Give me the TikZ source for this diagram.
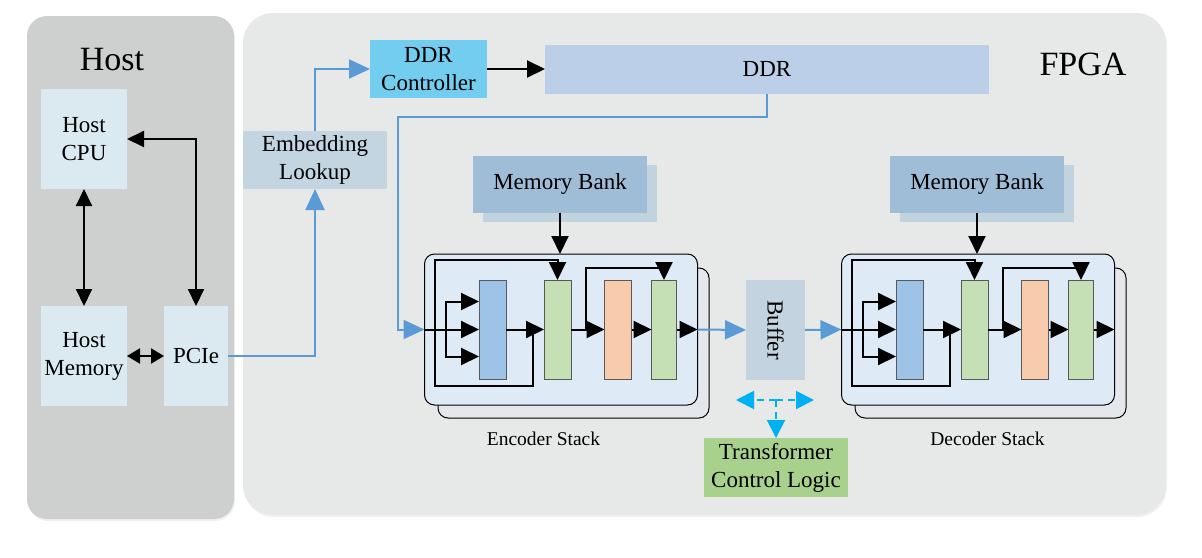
\documentclass[tikz,border=0pt]{standalone}
\usepackage{fontspec}
\setmainfont{Liberation Serif}
\usepackage{graphicx}
\usetikzlibrary{positioning, calc, arrows.meta, shadows}
\definecolor{HostBg}{HTML}{CECFCF}
\definecolor{FpgaBg}{HTML}{E7E8E8}
\definecolor{HostBox}{HTML}{DAEAF0}
\definecolor{EmbBox}{HTML}{C2D5E1}
\definecolor{DdrCtl}{HTML}{72CDEE}
\definecolor{DdrBox}{HTML}{BBD0E8}
\definecolor{MemBank}{HTML}{9FBDD7}
\definecolor{MemShade}{HTML}{C2D3E0}
\definecolor{BufBox}{HTML}{C3D4E0}
\definecolor{CtlBox}{HTML}{A9D18E}
\definecolor{StackFront}{HTML}{DEEAF6}
\definecolor{StackBack}{HTML}{E4E8EC}
\definecolor{AttBlk}{HTML}{9DC3E6}
\definecolor{AddBlk}{HTML}{C5E0B4}
\definecolor{FfnBlk}{HTML}{F8CBAD}
\definecolor{Flow}{HTML}{5B9BD5}
\definecolor{Ctrl}{HTML}{00B0F0}
\newcommand\boxfont{\fontsize{23}{28}\selectfont}
\newcommand\titlefont{\fontsize{34}{40}\selectfont}
\newcommand\stackfont{\fontsize{19.5}{23}\selectfont}

\begin{document}
\begin{tikzpicture}[x=1pt, y=-1pt,
    panel/.style={rounded corners=20pt, inner sep=0, outer sep=0, drop shadow={opacity=0.12, shadow xshift=1pt, shadow yshift=-2pt}},
    unit/.style={inner sep=0, outer sep=0, align=center, font=\boxfont},
    block/.style={draw=black!65, line width=0.6pt, inner sep=0, outer sep=0, minimum width=27pt, minimum height=99pt},
    layer/.style={draw=black, line width=1pt, rounded corners=10pt, inner sep=0, outer sep=0, minimum width=273pt, minimum height=151pt},
    wire/.style={line width=2pt},
    bar/.style={line width=2pt, -{Triangle[length=18pt, width=17pt]}},
    dbar/.style={line width=2pt, {Triangle[length=17pt, width=16pt]}-{Triangle[length=17pt, width=16pt]}},
    flow/.style={draw=Flow, line width=2pt, -{Triangle[length=21pt, width=19pt]}},
    ctl/.style={draw=Ctrl, line width=2pt, dash pattern=on 7pt off 5pt, -{Triangle[length=18pt, width=18pt]}}
  ]
  \useasboundingbox (0,0) rectangle (1202,557);
  \node[panel, fill=HostBg, minimum width=207pt, minimum height=503pt] (host) at (130.5,267.5) {};
  \node[panel, fill=FpgaBg, rounded corners=30pt, minimum width=923pt, minimum height=502pt] (fpga) at (704.5,264) {};
  \node[font=\titlefont] (hosttitle) at (112,60) {Host};
  \node[font=\titlefont] (fpgatitle) at (1083,64) {FPGA};

  \node[unit, fill=HostBox, minimum width=86pt, minimum height=100pt] (cpu) at (84,139) {Host\\CPU};
  \node[unit, fill=HostBox, minimum width=86pt, minimum height=100pt] (hmem) at (84,356) {Host\\Memory};
  \node[unit, fill=HostBox, minimum width=64pt, minimum height=100pt] (pcie) at (196,356) {PCIe};
  \node[unit, fill=EmbBox, minimum width=144pt, minimum height=58pt] (emb) at (315,160) {Embedding\\Lookup};
  \node[unit, fill=DdrCtl, minimum width=117pt, minimum height=58pt] (ddrc) at (428.5,69) {DDR\\Controller};
  \node[unit, fill=DdrBox, minimum width=444pt, minimum height=49pt] (ddr) at (767,69) {DDR};
  \node[unit, fill=BufBox, minimum width=59pt, minimum height=100pt] (buf) at (775.5,330) {\rotatebox{-90}{Buffer}};
  \node[unit, fill=CtlBox, minimum width=144pt, minimum height=59pt] (tcl) at (776,467.5) {Transformer\\Control Logic};

  \foreach \sx/\nm/\lbl/\lx in {0/enc/Encoder Stack/543.5, 417/dec/Decoder Stack/570.5} {
    \begin{scope}[xshift=\sx pt]
      \node[unit, fill=MemBank, minimum width=174pt, minimum height=57pt, general shadow={fill=MemShade, shadow xshift=10pt, shadow yshift=-9pt}] (\nm-mem) at (560,184) {Memory Bank};
      \node[layer, fill=StackBack, minimum width=271pt, minimum height=150pt] (\nm-back) at (573.5,343) {};
      \node[layer, fill=StackFront] (\nm) at (561,329.5) {};
      \node[block, fill=AttBlk] (\nm-att) at (492.5,329.5) {};
      \node[block, fill=AddBlk] (\nm-add1) at (557.5,329.5) {};
      \node[block, fill=FfnBlk] (\nm-ffn) at (618,329.5) {};
      \node[block, fill=AddBlk, minimum width=25pt] (\nm-add2) at (664,329.5) {};
      \node[font=\stackfont] (\nm-lbl) at (\lx,439) {\lbl};
      \coordinate (\nm-tap) at (435,329.5);
      \coordinate (\nm-split) at (446,329.5);
      \draw[bar] (\nm-mem) -- (\nm-mem |- \nm.north);
      \draw[bar] (\nm.west) -- (\nm-att.west);
      \draw[bar] (\nm-split) |- ([yshift=28pt]\nm-att.west);
      \draw[bar] (\nm-split) |- ([yshift=-27pt]\nm-att.west);
      \draw[bar] (\nm-tap) |- ([yshift=20pt]\nm-add1.north) -- (\nm-add1.north);
      \draw[wire] (\nm-tap) -- ++(0,56) -| ($(\nm-att.east)!0.71!(\nm-add1.west)$);
      \draw[bar] (\nm-att) -- (\nm-add1);
      \draw[bar] (\nm-add1) -- (\nm-ffn);
      \draw[bar] (\nm-ffn) -- (\nm-add2);
      \draw[bar] ($(\nm-add1.east)!0.45!(\nm-ffn.west)$) |- ([yshift=12pt]\nm-add2.north) -- (\nm-add2.north);
      \draw[bar] (\nm-add2) -- (\nm-add2 -| \nm.east);
    \end{scope}
  }

  \draw[dbar] (cpu.south) -- (hmem.north);
  \draw[dbar] (cpu.east) -| (pcie.north);
  \draw[dbar, {Triangle[length=13pt, width=15pt]}-{Triangle[length=13pt, width=15pt]}] (hmem.east) -- (pcie.west);
  \draw[flow] (pcie.east) -| (emb.south);
  \draw[flow] (emb.north) |- (ddrc.west);
  \draw[bar] (ddrc.east) -- (ddr.west);
  \coordinate (ddrtap) at (398,117);
  \draw[flow] (ddr.south) |- (ddrtap) |- (enc.west);
  \draw[flow] (enc.east) -- (buf.west);
  \draw[flow] (buf.east) -- (dec.west);
  \coordinate (ctlsplit) at (776,400);
  \coordinate (ctlL) at (736,400);
  \coordinate (ctlR) at (814,400);
  \draw[ctl] (ctlsplit) -- (ctlL);
  \draw[ctl] (ctlsplit) -- (ctlR);
  \draw[ctl] (ctlsplit) -- (tcl.north);
\end{tikzpicture}
\end{document}
